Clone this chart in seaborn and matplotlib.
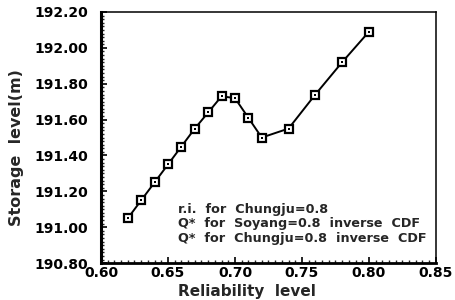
import matplotlib
matplotlib.use("Agg")
import matplotlib.pyplot as plt
import seaborn as sns
import pandas as pd
from matplotlib.ticker import MultipleLocator, FormatStrFormatter

reliability = [0.62, 0.63, 0.64, 0.65, 0.66, 0.67, 0.68, 0.69, 0.70, 0.71, 0.72, 0.74, 0.76, 0.78, 0.80]
storage = [191.05, 191.15, 191.25, 191.35, 191.45, 191.55, 191.64, 191.73, 191.72, 191.61, 191.50, 191.55, 191.74, 191.92, 192.09]
legend_lines = ["r.i.  for  Chungju=0.8",
                "Q*  for  Soyang=0.8  inverse  CDF",
                "Q*  for  Chungju=0.8  inverse  CDF"]

sns.set_theme(style="white")
plt.rcParams['font.family'] = ['DejaVu Sans']
plt.rcParams['font.weight'] = 'bold'

df = pd.DataFrame({"Reliability": reliability, "Storage": storage})

fig = plt.figure(figsize=(4.55, 3.0), dpi=100)
ax = fig.add_axes([0.222, 0.123, 0.736, 0.837])
sns.lineplot(data=df, x="Reliability", y="Storage", ax=ax, color="black", linewidth=1.4,
             marker="s", markersize=6, markerfacecolor="white", markeredgecolor="black",
             markeredgewidth=1.6)
sns.scatterplot(data=df, x="Reliability", y="Storage", ax=ax, color="black", marker="s", s=2.5,
                linewidth=0, zorder=5)

ax.set_xlim(0.60, 0.85)
ax.set_ylim(190.80, 192.20)
ax.xaxis.set_major_locator(MultipleLocator(0.05))
ax.yaxis.set_major_locator(MultipleLocator(0.2))
ax.xaxis.set_minor_locator(MultipleLocator(0.005))
ax.yaxis.set_minor_locator(MultipleLocator(0.02))
ax.xaxis.set_major_formatter(FormatStrFormatter('%.2f'))
ax.yaxis.set_major_formatter(FormatStrFormatter('%.2f'))
ax.tick_params(axis='both', which='major', direction='in', length=4, width=1.2,
               labelsize=10, colors='black')
ax.tick_params(axis='y', which='major', pad=9)
ax.tick_params(axis='x', which='major', pad=2)
ax.tick_params(axis='both', which='minor', direction='in', length=2, width=1.0)
ax.tick_params(axis='x', which='both', bottom=True, top=False)
ax.tick_params(axis='y', which='both', left=True, right=False)
for lbl in ax.get_xticklabels() + ax.get_yticklabels():
    lbl.set_fontweight('bold')
for side, sp in ax.spines.items():
    sp.set_color('black')
    sp.set_linewidth(1.1)
ax.spines['left'].set_linewidth(2.2)
ax.spines['bottom'].set_linewidth(2.0)

ax.set_xlabel("Reliability  level", fontsize=11, fontweight='bold')
ax.xaxis.set_label_coords(0.436, -0.085)
ax.set_ylabel("Storage  level(m)", fontsize=11.5, fontweight='bold')
ax.yaxis.set_label_coords(-0.23, 0.46)

for i, t in enumerate(legend_lines):
    ax.text(0.23, 0.215 - i * 0.058, t, transform=ax.transAxes, fontsize=9.2,
            fontweight='bold', va='center', ha='left')

fig.savefig("out.png", dpi=100)
